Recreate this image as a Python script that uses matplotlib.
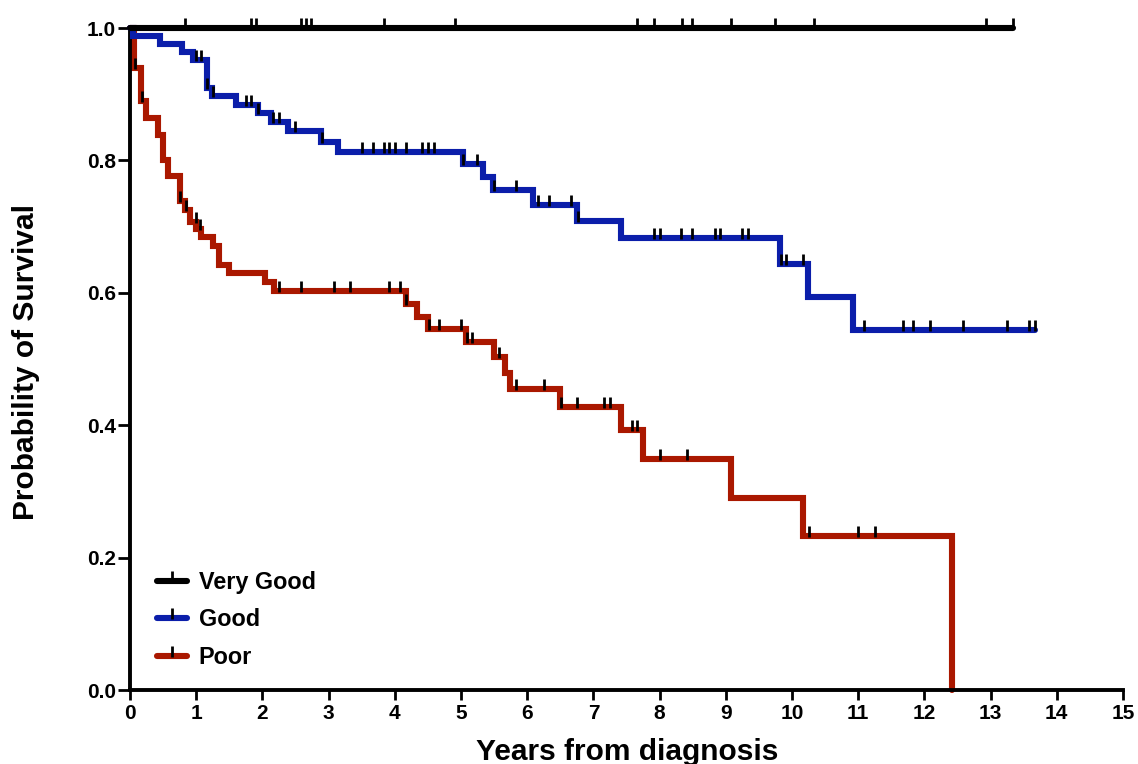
import numpy as np
import matplotlib
matplotlib.use("Agg")
import matplotlib.pyplot as plt
from matplotlib.path import Path
from matplotlib.lines import Line2D

plt.rcParams['font.family'] = ['Liberation Sans', 'DejaVu Sans']
plt.rcParams['font.weight'] = 'bold'

# ---------------- data ----------------
groups = ["Very Good", "Good", "Poor"]
colors = ["#000000", "#0B1EAA", "#AA1800"]

# Very Good
vg_event_times = []
vg_event_surv = []
vg_end = 13.34
vg_censor = [0.834, 1.821, 1.907, 2.577, 2.652, 2.738, 3.831, 4.915, 7.664,
             7.919, 8.333, 8.496, 9.084, 9.748, 10.336, 12.926, 13.34]

# Good
good_event_times = [0.05, 0.446, 0.783, 0.949, 1.161, 1.242, 1.605, 1.932, 2.133,
                    2.385, 2.889, 3.14, 5.03, 5.33, 5.48, 6.087, 6.752, 7.42,
                    9.82, 10.24, 10.92]
good_event_surv = [0.988, 0.976, 0.963, 0.951, 0.909, 0.897, 0.884, 0.871, 0.858,
                   0.845, 0.828, 0.813, 0.795, 0.775, 0.755, 0.733, 0.708, 0.683,
                   0.644, 0.594, 0.544]
good_end = 13.67
good_censor = [0.99, 1.076, 1.17, 1.25, 1.745, 1.83, 1.94, 2.16, 2.244, 2.496, 2.9,
               3.503, 3.669, 3.835, 3.911, 3.997, 4.163, 4.416, 4.5, 4.587, 5.035,
               5.24, 5.50, 5.826, 6.163, 6.33, 6.667, 6.76, 7.911, 8.002, 8.33,
               8.496, 8.833, 8.919, 9.252, 9.337, 9.83, 9.906, 10.168, 11.085,
               11.67, 11.83, 12.09, 12.586, 13.25, 13.58, 13.67]

# Poor
poor_event_times = [0.06, 0.169, 0.245, 0.42, 0.496, 0.571, 0.748, 0.829, 0.91,
                    1.0, 1.076, 1.25, 1.337, 1.49, 2.04, 2.18, 4.164, 4.335, 4.5,
                    5.08, 5.498, 5.66, 5.745, 6.5, 7.413, 7.75, 9.085, 10.17, 12.42]
poor_event_surv = [0.939, 0.889, 0.864, 0.839, 0.801, 0.776, 0.738, 0.725, 0.707,
                   0.697, 0.685, 0.670, 0.642, 0.630, 0.617, 0.602, 0.583, 0.564,
                   0.546, 0.525, 0.503, 0.479, 0.454, 0.428, 0.393, 0.349, 0.290,
                   0.233, 0.0]
poor_end = 12.42
poor_censor = [0.07, 0.18, 0.76, 0.84, 0.99, 1.06, 2.25, 2.587, 3.08, 3.33, 3.91,
               4.08, 4.17, 4.51, 4.667, 5.0, 5.09, 5.166, 5.574, 5.826, 6.25, 6.51,
               6.753, 7.16, 7.247, 7.583, 7.665, 8.0, 8.415, 10.25, 11.0, 11.25]

x_ticks = list(range(0, 16))
y_ticks = [0.0, 0.2, 0.4, 0.6, 0.8, 1.0]
y_tick_labels = ["0.0", "0.2", "0.4", "0.6", "0.8", "1.0"]

series = [
    (vg_event_times, vg_event_surv, vg_end, vg_censor),
    (good_event_times, good_event_surv, good_end, good_censor),
    (poor_event_times, poor_event_surv, poor_end, poor_censor),
]

# ---------------- plot ----------------
fig = plt.figure(figsize=(11.38, 7.64), dpi=100)
ax = fig.add_axes([130 / 1138, 74 / 764, 993 / 1138, 662 / 764])
ax.set_xlim(0, 15)
ax.set_ylim(0, 1)

censor_marker = Path([(0, -0.12), (0, 1.0)], [Path.MOVETO, Path.LINETO])

zorders = [4, 3, 2]
for idx in [2, 1, 0]:
    et, es, end, cens = series[idx]
    t = np.array([0.0] + list(et) + [end])
    s = np.array([1.0] + list(es) + [es[-1] if len(es) else 1.0])
    ax.step(t, s, where='post', color=colors[idx], lw=4.4, zorder=zorders[idx],
            clip_on=False, solid_joinstyle='miter', solid_capstyle='round')

for idx in [2, 1, 0]:
    et, es, end, cens = series[idx]
    et_arr = np.array([0.0] + list(et))
    es_arr = np.array([1.0] + list(es))
    c = np.array(cens)
    pos = np.searchsorted(et_arr, c, side='right') - 1
    cy = es_arr[pos]
    ax.plot(c, cy, linestyle='none', marker=censor_marker, markersize=15,
            markeredgecolor='black', markeredgewidth=2.0, zorder=10, clip_on=False)

for side in ['top', 'right']:
    ax.spines[side].set_visible(False)
for side in ['left', 'bottom']:
    ax.spines[side].set_linewidth(2.8)
    ax.spines[side].set_capstyle('projecting')

ax.set_xticks(x_ticks)
ax.set_xticklabels([str(v) for v in x_ticks])
ax.set_yticks(y_ticks)
ax.set_yticklabels(y_tick_labels)
ax.tick_params(axis='x', direction='out', length=7, width=2, pad=3, labelsize=15)
ax.tick_params(axis='y', direction='out', length=9, width=2, pad=1, labelsize=15)
for lab in ax.get_xticklabels() + ax.get_yticklabels():
    lab.set_fontweight('bold')

fig.text(26 / 1138, (764 - 362) / 764, "Probability of Survival", rotation=90,
         ha='center', va='center', fontsize=21.5, fontweight='bold')
fig.text(627 / 1138, 4 / 764, "Years from diagnosis", ha='center', va='baseline',
         fontsize=21.5, fontweight='bold')

handles = [Line2D([0], [0], color=col, lw=4.4, marker=censor_marker, markersize=15,
                  markeredgecolor='black', markeredgewidth=2.0,
                  solid_capstyle='round') for col in colors]
leg = ax.legend(handles, groups, loc='lower left', bbox_to_anchor=(0.027, 0.032),
                frameon=False, borderaxespad=0, borderpad=0, handlelength=1.3,
                handletextpad=0.5, labelspacing=0.62, numpoints=1,
                prop={'size': 16.8, 'weight': 'bold'})

fig.savefig("out.png", dpi=100)
